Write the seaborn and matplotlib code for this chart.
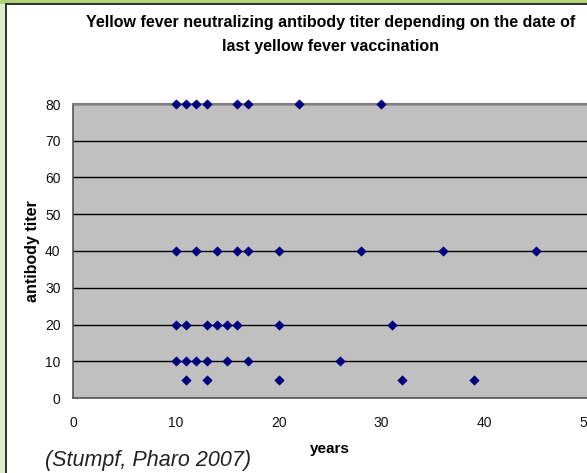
import matplotlib
matplotlib.use("Agg")
import matplotlib.pyplot as plt
import seaborn as sns
import pandas as pd
from matplotlib.patches import Rectangle

years_80 = [10, 11, 12, 13, 16, 17, 22, 30]
years_40 = [10, 12, 14, 16, 17, 20, 28, 36, 45]
years_20 = [10, 11, 13, 14, 15, 16, 20, 31]
years_10 = [10, 11, 12, 13, 15, 17, 26]
years_5 = [11, 13, 20, 32, 39]
titer_levels = [80, 40, 20, 10, 5]
x_ticks = [0, 10, 20, 30, 40, 50]
y_ticks = [0, 10, 20, 30, 40, 50, 60, 70, 80]

rows = []
for lvl, yrs in zip(titer_levels, [years_80, years_40, years_20, years_10, years_5]):
    for yv in yrs:
        rows.append({"years": yv, "titer": lvl})
df = pd.DataFrame(rows)

sns.set_style("white")
plt.rcParams["font.family"] = ["Liberation Sans", "DejaVu Sans"]
plt.rcParams["text.color"] = "black"
plt.rcParams["axes.labelcolor"] = "black"

W, H = 587, 473
fig = plt.figure(figsize=(W / 100, H / 100), dpi=100)

# frame decorations
fig.patches.append(Rectangle((0, (H - 4) / H), 1, 4 / H, transform=fig.transFigure,
                             facecolor="#b3d17a", edgecolor="none", zorder=-5))
fig.patches.append(Rectangle((0, 0), 6 / W, (H - 4) / H, transform=fig.transFigure,
                             facecolor="#dfeccb", edgecolor="none", zorder=-5))
fig.patches.append(Rectangle((6 / W, -0.01), 1.2, (H - 4.5) / H + 0.01, transform=fig.transFigure,
                             facecolor="white", edgecolor="#222222", linewidth=1.3, zorder=-4))

ax = fig.add_axes([73 / W, (H - 398) / H, 514 / W, 294 / H])
ax.set_facecolor("#c0c0c0")
ax.set_axisbelow(True)

sns.scatterplot(data=df, x="years", y="titer", marker="D", s=22, color="#000080",
                edgecolor="#000080", linewidth=0.5, ax=ax, zorder=3, clip_on=False)

ax.set_xlim(0, 50)
ax.set_ylim(0, 80)
ax.set_xticks(x_ticks)
ax.set_yticks(y_ticks)
ax.tick_params(axis="both", direction="out", length=4, width=1, color="#333333",
               labelsize=10, pad=5, labelcolor="#111111")
ax.tick_params(axis="x", pad=9)
ax.yaxis.grid(True, color="black", linewidth=1)
ax.xaxis.grid(False)
for side in ["left", "bottom"]:
    ax.spines[side].set_color("#555555")
    ax.spines[side].set_linewidth(1.2)
ax.spines["top"].set_color("#808080")
ax.spines["top"].set_linewidth(1.5)
ax.spines["right"].set_visible(False)

ax.set_xlabel("years", fontsize=11, fontweight="bold", va="center")
ax.xaxis.set_label_coords((330 - 73) / 514, -(449 - 398) / 294)
ax.set_ylabel("antibody titer", fontsize=11.5, fontweight="bold", va="center")
ax.yaxis.set_label_coords(-(73 - 33) / 514, (398 - 251) / 294)

fig.text(331 / W, 1 - 22 / H, "Yellow fever neutralizing antibody titer depending on the date of",
         ha="center", va="center", fontsize=11.5, fontweight="bold")
fig.text(331 / W, 1 - 46 / H, "last yellow fever vaccination",
         ha="center", va="center", fontsize=11.5, fontweight="bold")
fig.text(45 / W, 1 - 460 / H, "(Stumpf, Pharo 2007)", ha="left", va="center",
         fontsize=15.5, fontstyle="italic", color="#222222")

fig.savefig("out.png", dpi=100)
